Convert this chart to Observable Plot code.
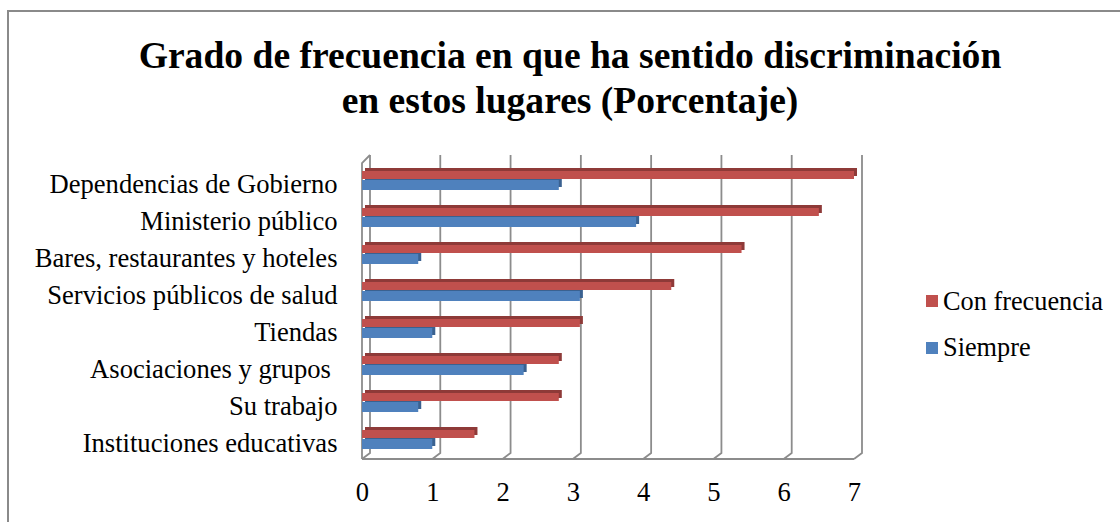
<!DOCTYPE html>
<html>
<head>
<meta charset="utf-8">
<script src="https://cdn.jsdelivr.net/npm/d3@7"></script>
<script src="https://cdn.jsdelivr.net/npm/@observablehq/plot@0.6"></script>
<style>
  html, body { margin: 0; padding: 0; background: #fff; }
  body { width: 1120px; height: 522px; position: relative; overflow: hidden; font-family: "Liberation Serif", "Times New Roman", serif; }
  #border { position: absolute; left: 7px; top: 10px; width: 1200px; height: 700px; border: 2px solid #8a8a8a; box-sizing: border-box; }
  #title { position: relative; height: 140px; padding-left: 20px; box-sizing: border-box; text-align: center; font-weight: bold; font-size: 37.6px; line-height: 45px; padding-top: 33px; color: #000; }
  #chart { position: relative; }
  .leg { position: absolute; font-family: "Liberation Serif", serif; font-size: 26.3px; line-height: 26px; color: #000; white-space: nowrap; }
  .sw { position: absolute; width: 12px; height: 12px; }
</style>
</head>
<body>
<div id="border"></div>
<div id="title">Grado de frecuencia en que ha sentido discriminación<br>en estos lugares (Porcentaje)</div>
<div id="chart"></div>
<div class="sw" style="left:926px; top:295px; background:#C0504D"></div>
<div class="leg" style="left:943px; top:289px">Con frecuencia</div>
<div class="sw" style="left:926px; top:342px; background:#4F81BD"></div>
<div class="leg" style="left:943px; top:335px">Siempre</div>
<script>
const categories = [
  "Dependencias de Gobierno",
  "Ministerio público",
  "Bares, restaurantes y hoteles",
  "Servicios públicos de salud",
  "Tiendas",
  "Asociaciones y grupos\u00a0",
  "Su trabajo",
  "Instituciones educativas"
];
const conFrecuencia = [7.0, 6.5, 5.4, 4.4, 3.1, 2.8, 2.8, 1.6];
const siempre = [2.8, 3.9, 0.8, 3.1, 1.0, 2.3, 0.8, 1.0];
const xTicks = [0, 1, 2, 3, 4, 5, 6, 7];

const rows = categories.map((c, i) => ({cat: c, red: conFrecuencia[i], blue: siempre[i]}));

const gridColor = "#8c8c8c";
const depthX = 8, depthY = 6;

function frame3d(index, scales, values, dims) {
  const {x} = scales;
  const top = dims.marginTop, bottom = dims.height - dims.marginBottom;
  const g = d3.create("svg:g").attr("fill", "none").attr("stroke", gridColor).attr("stroke-width", 1.8);
  for (const t of xTicks) {
    const xf = x(t), xb = xf + depthX;
    g.append("path").attr("d", `M${xb},${top - depthY}L${xb},${bottom - 4}L${xf},${bottom + 2}`);
  }
  const x0 = x(xTicks[0]), x1 = x(xTicks[xTicks.length - 1]);
  g.append("path").attr("d", `M${x0},${bottom + 2}L${x0},${top + 2}L${x0 + depthX},${top - depthY}`);
  g.append("path").attr("d", `M${x0},${bottom + 2}L${x1},${bottom + 2}`);
  return g.node();
}

const serif = "'Liberation Serif', 'Times New Roman', serif";

const chart = Plot.plot({
  width: 1120,
  height: 382,
  marginLeft: 362,
  marginRight: 266,
  marginTop: 21,
  marginBottom: 65,
  style: {fontFamily: serif, fontSize: "26.6px", color: "#000", background: "transparent"},
  x: {domain: [0, 7]},
  y: {domain: categories, paddingInner: 0.405, paddingOuter: 0.2},
  marks: [
    frame3d,
    Plot.barX(rows, {y: "cat", x: "blue", fill: "#3A6190", insetTop: 12, insetBottom: 0, dx: 3, dy: -3}),
    Plot.barX(rows, {y: "cat", x: "blue", fill: "#4F81BD", insetTop: 12, insetBottom: 0}),
    Plot.barX(rows, {y: "cat", x: "red", fill: "#8E3A38", insetTop: 3, insetBottom: 11, dx: 3, dy: -3}),
    Plot.barX(rows, {y: "cat", x: "red", fill: "#C0504D", insetTop: 3, insetBottom: 11}),
    Plot.axisX({ticks: xTicks, tickSize: 0, tickPadding: 25, tickFormat: d3.format("d"), fontSize: 26.6, fontFamily: serif, label: null}),
    Plot.axisY({tickSize: 0, tickPadding: 25, fontSize: 26.6, fontFamily: serif, label: null, dy: 5})
  ]
});
document.getElementById("chart").appendChild(chart);
</script>
</body>
</html>
